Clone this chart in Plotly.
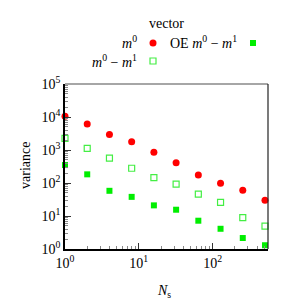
import plotly.graph_objects as go

ns = [1, 2, 4, 8, 16, 32, 64, 128, 256, 512]
var_m0 = [10500, 6100, 2970, 1780, 850, 413, 174, 98, 60, 30]
var_m0_m1 = [2250, 1120, 570, 280, 145, 93, 46, 26, 8.9, 4.9]
var_oe = [350, 183, 58, 38, 21, 15.5, 7.2, 4.1, 2.15, 1.3]

x_tickvals = [1, 10, 100]
x_ticktext = ["10<sup>0</sup>", "10<sup>1</sup>", "10<sup>2</sup>"]
y_tickvals = [1, 10, 100, 1000, 10000, 100000]
y_ticktext = ["10<sup>0</sup>", "10<sup>1</sup>", "10<sup>2</sup>", "10<sup>3</sup>", "10<sup>4</sup>", "10<sup>5</sup>"]

FONT = "Liberation Serif"
RED = "#ff0000"
GREEN = "#00ee00"
LGREEN = "#44ee44"

fig = go.Figure()
fig.add_trace(go.Scatter(x=ns, y=var_m0, mode="markers", cliponaxis=False,
                         marker=dict(symbol="circle", size=7, color=RED), showlegend=False))
fig.add_trace(go.Scatter(x=ns, y=var_m0_m1, mode="markers", cliponaxis=False,
                         marker=dict(symbol="square-open", size=6, color=LGREEN, line=dict(width=1.2, color=LGREEN)), showlegend=False))
fig.add_trace(go.Scatter(x=ns, y=var_oe, mode="markers", cliponaxis=False,
                         marker=dict(symbol="square", size=6, color=GREEN), showlegend=False))

axis_common = dict(type="log", showgrid=False, zeroline=False, ticks="inside", ticklen=6,
                   tickcolor="#333", tickwidth=1, showline=True, linecolor="black", linewidth=1.5,
                   automargin=False,
                   tickfont=dict(family=FONT, size=14, color="black"),
                   minor=dict(ticks="inside", ticklen=3, tickcolor="#888", dtick="D1", showgrid=False))

fig.update_layout(
    width=300, height=300,
    margin=dict(l=57, r=40, t=76, b=59),
    paper_bgcolor="white", plot_bgcolor="white",
    font=dict(family=FONT, size=14, color="black"),
    xaxis=dict(axis_common, range=[0, 2.75], tickvals=x_tickvals, ticktext=x_ticktext),
    yaxis=dict(axis_common, range=[0, 5], tickvals=y_tickvals, ticktext=y_ticktext),
)

# frame top/right
fig.add_shape(type="line", xref="paper", yref="paper", x0=0, x1=1, y0=1, y1=1, line=dict(color="#888", width=1.5))
fig.add_shape(type="line", xref="paper", yref="paper", x0=1, x1=1, y0=0, y1=1, line=dict(color="#222", width=1.2))

# manual legend and axis titles (paper coords converted from pixels)
W, H = 300, 300
L, R, T, B = 57, 40, 76, 59
pw, ph = W - L - R, H - T - B
def px(x):
    return (x - L) / pw
def py(y):
    return (H - B - y) / ph

fig.add_annotation(x=px(156), y=py(283), xref="paper", yref="paper", text="<i>N</i><sub>s</sub>", showarrow=False,
                   font=dict(family=FONT, size=14), xanchor="center", yanchor="middle")
fig.add_annotation(x=px(17), y=py(158), xref="paper", yref="paper", text="variance", showarrow=False, textangle=-90,
                   font=dict(family=FONT, size=14), xanchor="center", yanchor="middle")

fig.add_annotation(x=px(158), y=py(15), xref="paper", yref="paper", text="vector", showarrow=False,
                   font=dict(family=FONT, size=14), xanchor="center", yanchor="middle")
legend_texts = ["<i>m</i><sup>0</sup>", "<i>m</i><sup>0</sup> − <i>m</i><sup>1</sup>", "OE <i>m</i><sup>0</sup> − <i>m</i><sup>1</sup>"]
fig.add_annotation(x=px(131), y=py(34), xref="paper", yref="paper", text=legend_texts[0], showarrow=False,
                   font=dict(family=FONT, size=14), xanchor="right", yanchor="middle")
fig.add_annotation(x=px(131), y=py(53), xref="paper", yref="paper", text=legend_texts[1], showarrow=False,
                   font=dict(family=FONT, size=14), xanchor="right", yanchor="middle")
fig.add_annotation(x=px(160), y=py(34), xref="paper", yref="paper", text=legend_texts[2], showarrow=False,
                   font=dict(family=FONT, size=14), xanchor="left", yanchor="middle")
fig.add_shape(type="circle", xref="paper", yref="paper", x0=px(141.5), x1=px(148.5), y0=py(38.5), y1=py(31.5),
              fillcolor=RED, line=dict(width=0))
fig.add_shape(type="rect", xref="paper", yref="paper", x0=px(142), x1=px(148), y0=py(56), y1=py(50),
              fillcolor="white", line=dict(color=LGREEN, width=1.2))
fig.add_shape(type="rect", xref="paper", yref="paper", x0=px(242), x1=px(248), y0=py(38), y1=py(32),
              fillcolor=GREEN, line=dict(width=0))

fig.write_html("out.html")
